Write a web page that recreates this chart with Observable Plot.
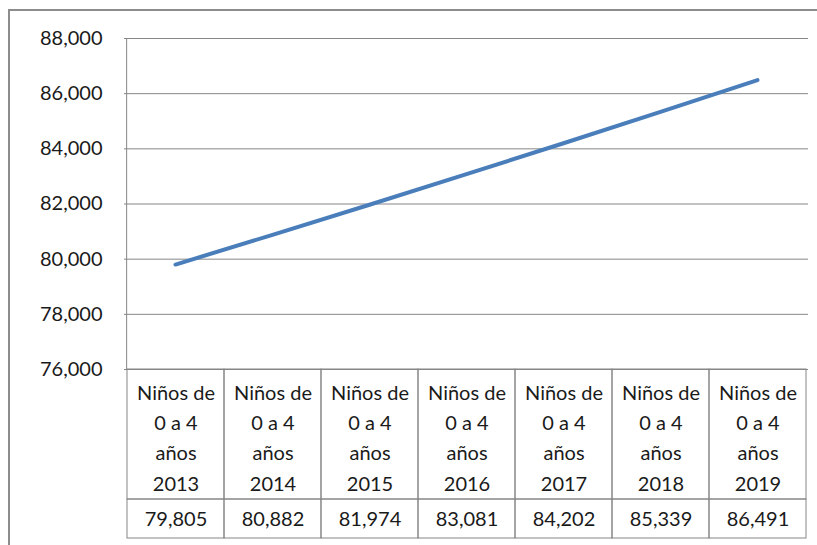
<!DOCTYPE html>
<html>
<head>
<meta charset="utf-8">
<script src="https://cdn.jsdelivr.net/npm/d3@7"></script>
<script src="https://cdn.jsdelivr.net/npm/@observablehq/plot@0.6"></script>
<style>
  html, body { margin: 0; padding: 0; background: #fff; }
  #wrap { position: relative; width: 817px; height: 545px; overflow: hidden; font-family: Lato, "Open Sans", sans-serif; }
  #frame { position: absolute; left: 8px; top: 9px; width: 830px; height: 560px; border-left: 2px solid #8c8c8c; border-top: 2px solid #8c8c8c; box-sizing: border-box; }
  .layer { position: absolute; left: 0; }
  .layer svg { display: block; }
</style>
</head>
<body>
<div id="wrap"><div id="frame"></div></div>
<script>
const years = ["2013", "2014", "2015", "2016", "2017", "2018", "2019"];
const categories = years.map(y => `Niños de 0 a 4 años ${y}`);
const categoryLines = years.map(y => `Niños de\n0 a 4\naños\n${y}`);
const values = [79805, 80882, 81974, 83081, 84202, 85339, 86491];
const yTicks = [76000, 78000, 80000, 82000, 84000, 86000, 88000];

const data = categories.map((c, i) => ({cat: c, lines: categoryLines[i], value: values[i]}));

const W = 817, ML = 124, MR = 9;
const fmt = d3.format(",");
const gridColor = "#868686";
const textColor = "#1a1a1a";
const font = "Lato, 'Open Sans', sans-serif";

const wrap = document.getElementById("wrap");
function place(node, top) {
  const d = document.createElement("div");
  d.className = "layer";
  d.style.top = top + "px";
  d.appendChild(node);
  wrap.appendChild(d);
}

// Main chart
const chart = Plot.plot({
  width: W, height: 370,
  marginTop: 38, marginBottom: 1, marginLeft: ML, marginRight: MR,
  style: {fontFamily: font, fontSize: "20px", color: textColor, background: "transparent", overflow: "visible"},
  x: {type: "point", domain: categories, padding: 0.5, axis: null},
  y: {domain: [76000, 88000], ticks: yTicks, tickFormat: fmt, tickSize: 0, tickPadding: 22, label: null},
  marks: [
    Plot.gridY(yTicks, {stroke: gridColor, strokeOpacity: 1, strokeWidth: 1}),
    Plot.axisY(yTicks, {tickFormat: fmt, tickSize: 0, tickPadding: 22, fontSize: 20, fill: textColor, label: null}),
    Plot.ruleX([categories[0]], {dx: -(W - ML - MR) / 14, stroke: gridColor}),
    Plot.line(data, {x: "cat", y: "value", stroke: "#4a7ebb", strokeWidth: 4, strokeLinecap: "round"})
  ]
});
place(chart, 0);

// Table header row (category labels)
const header = Plot.plot({
  width: W, height: 131,
  marginTop: 0, marginBottom: 1, marginLeft: ML, marginRight: MR,
  style: {fontFamily: font, fontSize: "20px", color: textColor, background: "transparent", overflow: "visible"},
  x: {type: "band", domain: categories, padding: 0, axis: null},
  marks: [
    Plot.cell(data, {x: "cat", fill: "none", stroke: gridColor, strokeWidth: 1}),
    Plot.text(data, {x: "cat", text: "lines", frameAnchor: "middle", lineHeight: 1.52, fontSize: 20, fill: textColor, dy: 1})
  ]
});
place(header, 369);

// Table value row
const valueRow = Plot.plot({
  width: W, height: 40,
  marginTop: 0, marginBottom: 1, marginLeft: ML, marginRight: MR,
  style: {fontFamily: font, fontSize: "20px", color: textColor, background: "transparent", overflow: "visible"},
  x: {type: "band", domain: categories, padding: 0, axis: null},
  marks: [
    Plot.cell(data, {x: "cat", fill: "none", stroke: gridColor, strokeWidth: 1}),
    Plot.text(data, {x: "cat", text: d => fmt(d.value), frameAnchor: "middle", fontSize: 20, fill: textColor, dy: 1})
  ]
});
place(valueRow, 499);
</script>
</body>
</html>
